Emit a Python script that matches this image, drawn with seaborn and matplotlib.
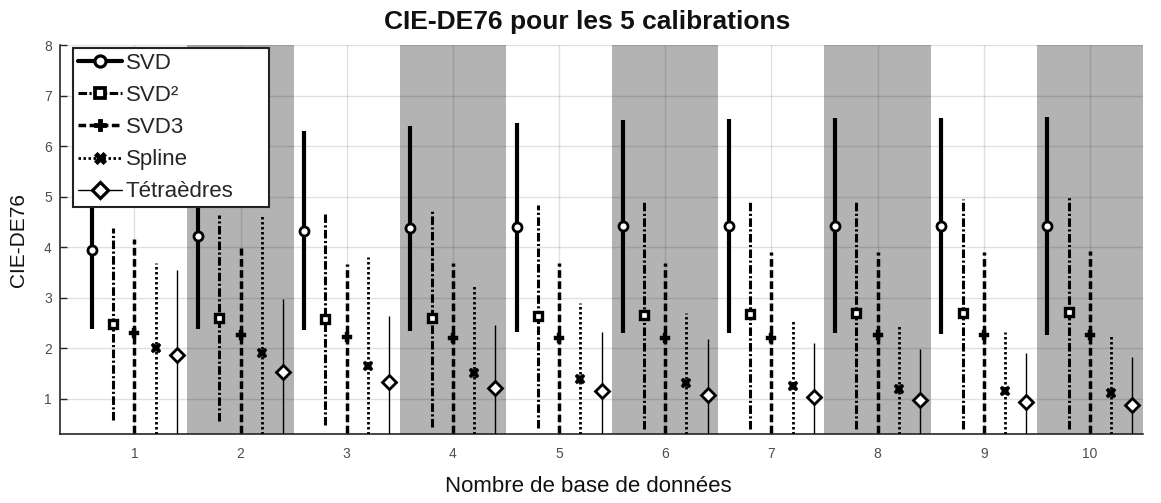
"""CIE-DE76 error bars for the five calibration methods."""
import matplotlib
matplotlib.use("Agg")
import matplotlib.pyplot as plt
from matplotlib.lines import Line2D
import pandas as pd
import seaborn as sns

sns.set_theme(style="whitegrid")
plt.rcParams["font.family"] = ["Liberation Sans", "DejaVu Sans"]

n_bases = [1, 2, 3, 4, 5, 6, 7, 8, 9, 10]
methods = ["SVD", "SVD²", "SVD3", "Spline", "Tétraèdres"]

# mean and min / max of the error bars
svd_mean = [3.95, 4.23, 4.32, 4.37, 4.39, 4.41, 4.42, 4.42, 4.42, 4.42]
svd_low = [2.38, 2.37, 2.36, 2.34, 2.33, 2.31, 2.30, 2.30, 2.28, 2.27]
svd_high = [5.52, 6.09, 6.29, 6.40, 6.45, 6.51, 6.53, 6.55, 6.56, 6.57]

svd2_mean = [2.47, 2.59, 2.57, 2.60, 2.63, 2.65, 2.67, 2.69, 2.69, 2.72]
svd2_low = [0.57, 0.55, 0.47, 0.45, 0.42, 0.40, 0.41, 0.40, 0.40, 0.40]
svd2_high = [4.38, 4.64, 4.66, 4.76, 4.83, 4.89, 4.93, 4.93, 4.95, 5.02]

svd3_mean = [2.30, 2.26, 2.23, 2.21, 2.21, 2.21, 2.21, 2.26, 2.26, 2.26]
svd3_low = [0.1, 0.1, 0.1, 0.1, 0.1, 0.1, 0.1, 0.1, 0.1, 0.1]
svd3_high = [4.16, 3.99, 3.67, 3.69, 3.69, 3.69, 3.90, 3.90, 3.91, 3.93]

spline_mean = [2.00, 1.90, 1.65, 1.51, 1.39, 1.32, 1.26, 1.20, 1.16, 1.11]
spline_low = [0.1, 0.1, 0.1, 0.1, 0.1, 0.1, 0.1, 0.1, 0.1, 0.1]
spline_high = [3.69, 4.61, 3.81, 3.25, 2.90, 2.70, 2.54, 2.43, 2.33, 2.26]

tetra_mean = [1.86, 1.52, 1.34, 1.22, 1.15, 1.08, 1.03, 0.98, 0.93, 0.88]
tetra_low = [0.1, 0.1, 0.1, 0.1, 0.1, 0.1, 0.1, 0.1, 0.1, 0.1]
tetra_high = [3.54, 2.97, 2.64, 2.45, 2.32, 2.19, 2.10, 1.99, 1.90, 1.82]

means = [svd_mean, svd2_mean, svd3_mean, spline_mean, tetra_mean]
lows = [svd_low, svd2_low, svd3_low, spline_low, tetra_low]
highs = [svd_high, svd2_high, svd3_high, spline_high, tetra_high]

offsets = [-0.4, -0.2, 0.0, 0.2, 0.4]
styles = {
    "SVD": dict(ls="-", lw=3.0, marker="o", ms=6.5, mew=2.0, mfc="white"),
    "SVD²": dict(ls=(0, (2.8, 0.8, 0.7, 0.8)), lw=2.2, marker="s", ms=5.5, mew=2.4, mfc="white"),
    "SVD3": dict(ls=(0, (2.2, 1.0)), lw=2.5, marker="P", ms=7.5, mew=0.3, mfc="black"),
    "Spline": dict(ls=(0, (0.9, 0.9)), lw=2.0, marker="X", ms=7.5, mew=0.3, mfc="black"),
    "Tétraèdres": dict(ls="-", lw=1.0, marker="D", ms=7, mew=2.0, mfc="white"),
}

rows = []
for m, mean, lo, hi, off in zip(methods, means, lows, highs, offsets):
    for n, mu, a, b in zip(n_bases, mean, lo, hi):
        rows.append({"method": m, "n": n, "x": n + off, "mean": mu, "low": a, "high": b})
df = pd.DataFrame(rows)

fig, ax = plt.subplots(figsize=(11.61, 5.03), dpi=100)
fig.subplots_adjust(left=0.0517, right=0.9845, top=0.9105, bottom=0.137)

# shaded bands on even groups
for n in n_bases:
    if n % 2 == 0:
        ax.axvspan(n - 0.5, n + 0.5, color="#b3b3b3", lw=0, zorder=0)

for m in methods:
    st = styles[m]
    sub = df[df["method"] == m]
    ax.vlines(sub["x"], sub["low"], sub["high"], colors="black",
              linestyles=[st["ls"]], linewidth=st["lw"], zorder=3)
    ax.plot(sub["x"], sub["mean"], ls="none", marker=st["marker"], ms=st["ms"],
            mew=st["mew"], mfc=st["mfc"], mec="black", zorder=4)

ax.set_xlim(0.3, 10.5)
ax.set_ylim(0.3, 8)
ax.set_xticks(n_bases)
ax.set_yticks(range(1, 9))
ax.grid(True, color="black", alpha=0.12, lw=1.0)
for line in ax.get_xgridlines() + ax.get_ygridlines():
    line.set_zorder(1)
ax.set_facecolor("white")
for side in ["top", "right"]:
    ax.spines[side].set_visible(False)
for side in ["left", "bottom"]:
    ax.spines[side].set_color("#262626")
    ax.spines[side].set_linewidth(1.2)
ax.tick_params(axis="both", colors="#262626", labelcolor="#4d4d4d", labelsize=10,
               direction="in", length=5, width=1.0, left=True, bottom=True)
ax.tick_params(axis="x", pad=9)
ax.tick_params(axis="y", pad=6)

ax.set_xlabel("Nombre de base de données", fontsize=16, color="#111111")
ax.xaxis.set_label_coords(0.488, -0.108)
ax.set_ylabel("CIE-DE76", fontsize=15, color="#111111")
ax.yaxis.set_label_coords(-0.03, 0.5)
fig.text(0.5056, 1 - 29 / 503, "CIE-DE76 pour les 5 calibrations", fontsize=19,
         fontweight="bold", color="#111111", ha="center", va="baseline")

handles = []
for m in methods:
    st = styles[m]
    handles.append(Line2D([], [], color="black", ls=st["ls"], lw=st["lw"],
                          marker=st["marker"], ms=st["ms"] + 1.5, mew=st["mew"] + 0.3,
                          mfc=st["mfc"], mec="black"))
leg = ax.legend(handles, methods, loc="upper left", fontsize=16, frameon=True,
                fancybox=False, framealpha=1, edgecolor="#222222",
                bbox_to_anchor=(0.012, 0.3, 0.181, 0.692), mode="expand",
                borderaxespad=0, handlelength=2.0, handletextpad=0.15,
                labelspacing=0.5, borderpad=0.22)
leg.get_frame().set_linewidth(1.5)
leg.set_zorder(10)

fig.savefig("out.png", dpi=100)
